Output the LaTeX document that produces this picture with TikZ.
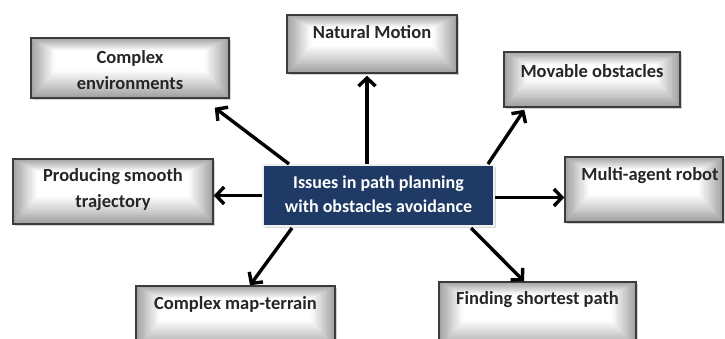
\documentclass[tikz,border=0pt]{standalone}
\usepackage{fontspec}
\setmainfont{Carlito}
\usetikzlibrary{arrows.meta,shadows,calc}
\definecolor{navy}{RGB}{31,58,100}
\definecolor{boxedge}{RGB}{60,60,60}
\definecolor{boxtext}{RGB}{38,38,38}
\begin{document}
\begin{tikzpicture}[x=1pt,y=-1pt,
  graybox/.style={draw=boxedge, line width=1.5pt, fill=gray!75,
    drop shadow={opacity=0.35, shadow xshift=2pt, shadow yshift=-2pt},
    path picture={
      \foreach \i in {0,...,30}{
        \pgfmathsetmacro\c{int(max(0,74-2.6*\i))}
        \fill[gray!\c] ($(path picture bounding box.south west)+(0.85*\i,-0.95*\i)$)
          rectangle ($(path picture bounding box.north east)+(-0.85*\i,0.45*\i)$);
      }
    }},
  mainbox/.style={draw=gray!12, line width=2pt, fill=navy,
    drop shadow={opacity=0.3, shadow xshift=2pt, shadow yshift=-2pt}},
  lbl/.style={font=\fontsize{18.5}{26}\selectfont\bfseries, text=boxtext, align=center, inner sep=0pt},
  mlbl/.style={font=\fontsize{18}{24}\selectfont\bfseries, text=white, align=center, inner sep=0pt},
  arr/.style={line width=3.4pt, -{Straight Barb[length=8pt,width=17pt,line width=3.4pt]}}
]
\useasboundingbox[fill=white] (0,0) rectangle (725,338);

\node[graybox, minimum width=198pt, minimum height=60pt, inner sep=0pt] (cenv) at (130,68) {};
\node[graybox, minimum width=170pt, minimum height=58pt, inner sep=0pt] (nat) at (372,44) {};
\node[graybox, minimum width=176pt, minimum height=55pt, inner sep=0pt] (mov) at (592,79.5) {};
\node[graybox, minimum width=158pt, minimum height=65pt, inner sep=0pt] (multi) at (644,189.5) {};
\node[graybox, minimum width=200pt, minimum height=65pt, inner sep=0pt] (prod) at (113,191.5) {};
\node[graybox, minimum width=199pt, minimum height=62pt, inner sep=0pt] (map) at (235.5,317) {};
\node[graybox, minimum width=197pt, minimum height=66pt, inner sep=0pt] (short) at (537.5,315) {};
\node[mainbox, minimum width=231pt, minimum height=61pt, inner sep=0pt] (center) at (378.5,195.5) {};

\node[lbl] (tcenv) at (130,70) {Complex\\environments};
\node[lbl] (tnat) at (372,32) {Natural Motion};
\node[lbl] (tmov) at (592,71) {Movable obstacles};
\node[lbl] (tmulti) at (650,176) {Multi-agent robot};
\node[lbl] (tprod) at (113,190) {Producing smooth\\trajectory};
\node[lbl] (tmap) at (235.5,304) {Complex map-terrain};
\node[lbl] (tshort) at (537.5,300) {Finding shortest path};
\node[mlbl] (tcenter) at (378.5,194.5) {Issues in path planning\\with obstacles avoidance};

\draw[arr] ($(center.north west)+(27,0)$) -- ($(cenv.south east)+(-15,9)$);
\draw[arr] ($(center.north)+(-11.5,0)$) -- ($(nat.south)+(-5,2)$);
\draw[arr] ($(center.north east)+(-7,0)$) -- ($(mov.south west)+(21,2)$);
\draw[arr] (center.west) -- (center.west -| prod.east);
\draw[arr] ($(center.east)+(0,2)$) -- ($(center.east -| multi.west)+(0,2)$);
\draw[arr] ($(center.south west)+(30,1)$) -- ($(map.north)+(14.5,0)$);
\draw[arr] ($(center.south east)+(-24,1)$) -- ($(short.north)+(-13.5,0)$);
\end{tikzpicture}
\end{document}
